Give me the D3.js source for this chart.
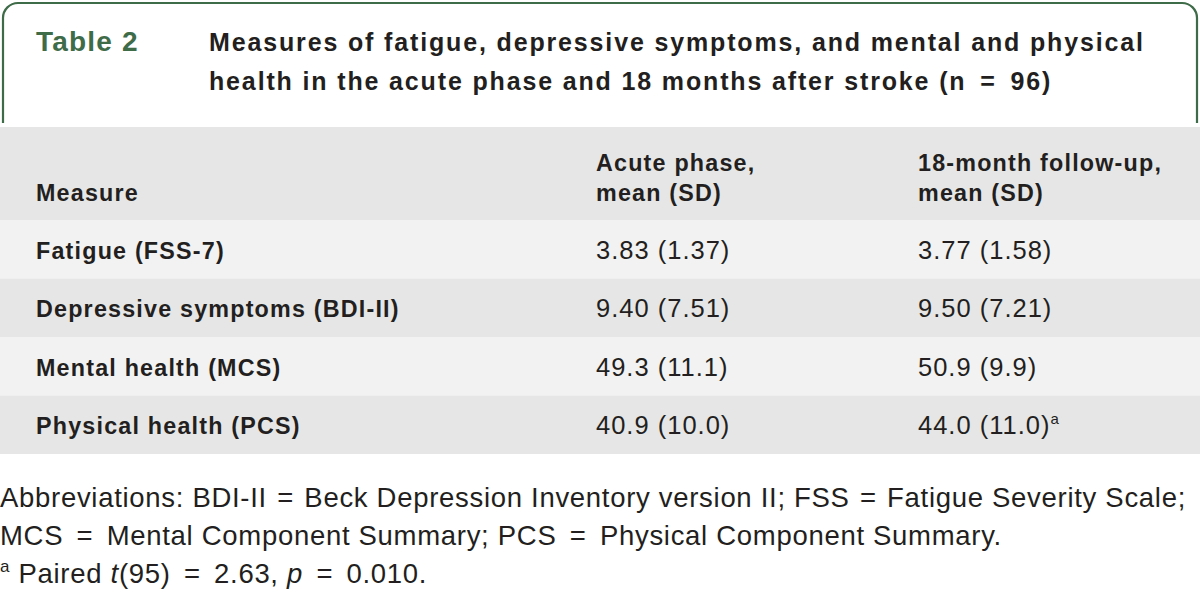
<!DOCTYPE html>
<html>
<head>
<meta charset="utf-8">
<script src="https://cdn.jsdelivr.net/npm/d3@7/dist/d3.min.js"></script>
<style>
  html, body { margin: 0; padding: 0; background: #ffffff; }
  svg { display: block; }
</style>
</head>
<body>
<svg id="chart" width="1200" height="590"></svg>
<script>
// ---- data ----
const tableLabel = "Table 2";
const titleLines = [
  "Measures of fatigue, depressive symptoms, and mental and physical",
  "health in the acute phase and 18 months after stroke (n = 96)"
];
const columnHeaders = [
  ["Measure"],
  ["Acute phase,", "mean (SD)"],
  ["18-month follow-up,", "mean (SD)"]
];
const measures = [
  "Fatigue (FSS-7)",
  "Depressive symptoms (BDI-II)",
  "Mental health (MCS)",
  "Physical health (PCS)"
];
const acuteValues = ["3.83 (1.37)", "9.40 (7.51)", "49.3 (11.1)", "40.9 (10.0)"];
const followupValues = ["3.77 (1.58)", "9.50 (7.21)", "50.9 (9.9)", "44.0 (11.0)"];
const followupMarks = ["", "", "", "a"];
const footnoteLines = [
  "Abbreviations: BDI-II = Beck Depression Inventory version II; FSS = Fatigue Severity Scale;",
  "MCS = Mental Component Summary; PCS = Physical Component Summary."
];

// ---- layout ----
const W = 1200;
const svg = d3.select("#chart");
const green = "#3e6b48";
const ink = "#231f20";
const sans = "'Liberation Sans', Arial, sans-serif";

// split text so "=" signs get extra room, as in the original typesetting
function addWithEquals(sel, str, eqGap) {
  const parts = str.split(" = ");
  parts.forEach((p, i) => {
    if (i > 0) {
      sel.append("tspan").attr("dx", eqGap).text(" = ");
      sel.append("tspan").attr("dx", eqGap).text(p);
    } else {
      sel.append("tspan").text(p);
    }
  });
}

// title frame (open at bottom, rounded top corners)
const fx0 = 3, fx1 = 1197, fy0 = 3, fy1 = 123, r = 15;
const framePath = d3.path();
framePath.moveTo(fx0, fy1);
framePath.lineTo(fx0, fy0 + r);
framePath.arcTo(fx0, fy0, fx0 + r, fy0, r);
framePath.lineTo(fx1 - r, fy0);
framePath.arcTo(fx1, fy0, fx1, fy0 + r, r);
framePath.lineTo(fx1, fy1);
svg.append("path").attr("d", framePath.toString())
  .attr("fill", "none").attr("stroke", green).attr("stroke-width", 2.2);

svg.append("text").attr("x", 36).attr("y", 51)
  .attr("font-family", sans).attr("font-weight", "bold").attr("font-size", 28)
  .style("letter-spacing", "1.2px")
  .attr("fill", green).text(tableLabel);

svg.selectAll("text.title").data(titleLines).join("text")
  .attr("class", "title")
  .attr("x", 209).attr("y", (d, i) => 51 + i * 38.5)
  .attr("font-family", sans).attr("font-weight", "bold").attr("font-size", 25)
  .style("letter-spacing", "1.85px")
  .attr("fill", ink)
  .each(function (d) { addWithEquals(d3.select(this), d, 5); });

// header band
svg.append("rect").attr("x", 0).attr("y", 127).attr("width", W).attr("height", 93)
  .attr("fill", "#e6e6e6");

const colX = d3.scaleOrdinal().domain([0, 1, 2]).range([36, 596, 918]);

columnHeaders.forEach((lines, ci) => {
  const n = lines.length;
  lines.forEach((ln, li) => {
    svg.append("text")
      .attr("x", colX(ci))
      .attr("y", 201 - (n - 1 - li) * 30)
      .attr("font-family", sans).attr("font-weight", "bold").attr("font-size", 23.3)
      .style("letter-spacing", "1.2px")
      .attr("fill", ink).text(ln);
  });
});

// body rows
const y = d3.scaleBand().domain(measures).range([220, 454]).paddingInner(0);
const baseOff = 38.5;

svg.selectAll("rect.row").data(measures).join("rect")
  .attr("class", "row")
  .attr("x", 0).attr("width", W)
  .attr("y", d => y(d)).attr("height", y.bandwidth())
  .attr("fill", (d, i) => i % 2 === 0 ? "#f2f2f2" : "#e6e6e6");

svg.selectAll("text.measure").data(measures).join("text")
  .attr("class", "measure")
  .attr("x", colX(0)).attr("y", d => y(d) + baseOff)
  .attr("font-family", sans).attr("font-weight", "bold").attr("font-size", 23.3)
  .style("letter-spacing", "1.2px")
  .attr("fill", ink).text(d => d);

svg.selectAll("text.acute").data(acuteValues).join("text")
  .attr("class", "acute")
  .attr("x", colX(1)).attr("y", (d, i) => y(measures[i]) + baseOff)
  .attr("font-family", sans).attr("font-size", 25.5)
  .style("letter-spacing", "1px")
  .attr("fill", ink).text(d => d);

const fu = svg.selectAll("text.fu").data(followupValues).join("text")
  .attr("class", "fu")
  .attr("x", colX(2)).attr("y", (d, i) => y(measures[i]) + baseOff)
  .attr("font-family", sans).attr("font-size", 25.5)
  .style("letter-spacing", "1px")
  .attr("fill", ink);
fu.append("tspan").text(d => d);
fu.append("tspan").attr("font-size", 15).attr("dy", -10)
  .text((d, i) => followupMarks[i]);

// footnotes
svg.selectAll("text.foot").data(footnoteLines).join("text")
  .attr("class", "foot")
  .attr("x", 0).attr("y", (d, i) => 507 + i * 38)
  .attr("font-family", sans).attr("font-size", 27.5)
  .style("letter-spacing", "0.7px")
  .attr("fill", ink)
  .each(function (d, i) { addWithEquals(d3.select(this), d, i === 0 ? 2 : 5); });

const f3 = svg.append("text").attr("x", 0).attr("y", 583)
  .attr("font-family", sans).attr("font-size", 27.5)
  .style("letter-spacing", "0.7px").attr("fill", ink);
f3.append("tspan").attr("font-size", 17).attr("dy", -11).text("a");
f3.append("tspan").attr("dy", 11).text(" Paired ");
f3.append("tspan").attr("font-style", "italic").text("t");
f3.append("tspan").text("(95)");
f3.append("tspan").attr("dx", 5).text(" = ");
f3.append("tspan").attr("dx", 5).text("2.63, ");
f3.append("tspan").attr("font-style", "italic").text("p");
f3.append("tspan").attr("dx", 5).text(" = ");
f3.append("tspan").attr("dx", 5).text("0.010.");
</script>
</body>
</html>
